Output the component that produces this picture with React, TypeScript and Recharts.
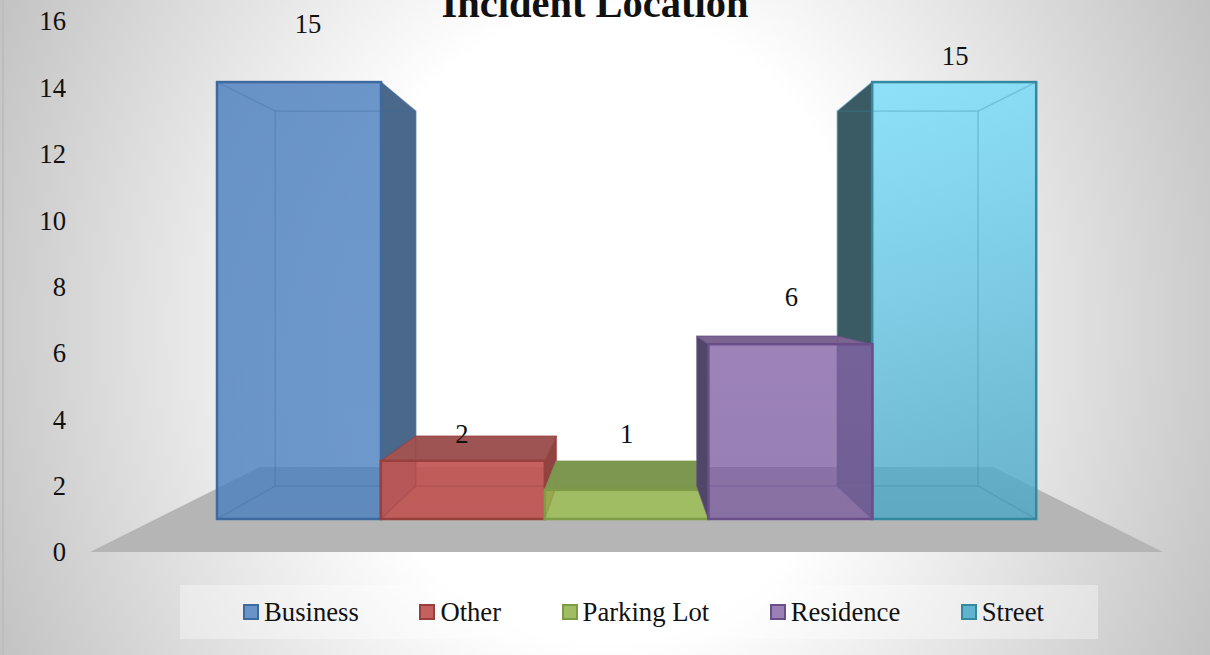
import { BarChart, Bar, XAxis, YAxis, Legend, LabelList } from 'recharts';

const categories = ['Business', 'Other', 'Parking Lot', 'Residence', 'Street'];
const values = [15, 2, 1, 6, 15];
const axisTicks = [0, 2, 4, 6, 8, 10, 12, 14, 16];
// bars are painted in this order so the outer walls sit behind the inner fronts
const drawOrder = ['Business', 'Street', 'Other', 'Parking Lot', 'Residence'];
const labelShift: Record<string, [number, number]> = {
  Business: [9, -49],
  Other: [-1, -18],
  'Parking Lot': [0, -47],
  Residence: [1, -38],
  Street: [1, -17],
};
const palette: Record<string, { top: string; bottom: string; edge: string; wall: string; lid: string; marker: string; alpha: number }> = {
  Business: { top: '#487dbe', bottom: '#4a7fbe', edge: '#3d6a9f', wall: '#4a688a', lid: '#4a688a', marker: '#6a94c8', alpha: 0.8 },
  Other: { top: '#c05553', bottom: '#bf5553', edge: '#98403e', wall: '#8f4442', lid: '#9d5452', marker: '#c4615f', alpha: 0.92 },
  'Parking Lot': { top: '#9bbf4f', bottom: '#9bbf4f', edge: '#7e9b45', wall: '#74894a', lid: '#7d9650', marker: '#a0bd63', alpha: 0.8 },
  Residence: { top: '#8464a6', bottom: '#7e5f9f', edge: '#694e8a', wall: '#4f4668', lid: '#7b6490', marker: '#9a80b5', alpha: 0.8 },
  Street: { top: '#74dcfa', bottom: '#4ba6c6', edge: '#35899f', wall: '#3b5b64', lid: '#3b5b64', marker: '#5fb3cf', alpha: 0.8 },
};

const rows = categories.map((name, i) => ({ name, [name]: values[i] }));

const FONT = '"Liberation Serif", serif';
const VX = 626.5;
const VY = 287;
const DEPTH = 0.858;
const backX = (x: number) => VX + (x - VX) * DEPTH;
const backY = (y: number) => VY + (y - VY) * DEPTH;
const pts = (p: number[][]) => p.map((q) => q.join(',')).join(' ');

const gradId = (name: string) => `front-${name.replace(' ', '')}`;

function boxShape(name: string) {
  const c = palette[name];
  return (props: any) => {
    const { x, y, width, height } = props;
    if (!(height > 0)) return <g />;
    const r = x + width;
    const b = y + height;
    const bl = backX(x);
    const br = backX(r);
    const bt = backY(y);
    const bb = backY(b);
    const lineProps = { stroke: c.edge, strokeOpacity: 0.3, strokeWidth: 1.5, fill: 'none' };
    return (
      <g>
        {r < VX && <polygon points={pts([[r, y], [br, bt], [br, bb], [r, b]])} fill={c.wall} stroke={c.edge} strokeOpacity={0.5} />}
        {x > VX && <polygon points={pts([[x, y], [bl, bt], [bl, bb], [x, b]])} fill={c.wall} stroke={c.edge} strokeOpacity={0.5} />}
        {y > VY && <polygon points={pts([[x, y], [r, y], [br, bt], [bl, bt]])} fill={c.lid} stroke={c.edge} strokeOpacity={0.5} />}
        <rect x={x} y={y} width={width} height={height} fill={`url(#${gradId(name)})`} fillOpacity={c.alpha} />
        <rect x={bl} y={bt} width={br - bl} height={bb - bt} {...lineProps} />
        <line x1={x} y1={y} x2={bl} y2={bt} {...lineProps} />
        <line x1={r} y1={y} x2={br} y2={bt} {...lineProps} />
        <line x1={x} y1={b} x2={bl} y2={bb} {...lineProps} />
        <line x1={r} y1={b} x2={br} y2={bb} {...lineProps} />
        <rect x={x} y={y} width={width} height={height} fill="none" stroke={c.edge} strokeWidth={2.5} />
      </g>
    );
  };
}

function valueLabel(name: string) {
  return (props: any) => {
    const { x, y, width, height } = props;
    if (!(height > 0)) return null;
    const [dx, dy] = labelShift[name];
    return (
      <text x={x + width / 2 + dx} y={y + dy} textAnchor="middle" fontFamily={FONT} fontSize={26.67} fill="#111">
        {values[categories.indexOf(name)]}
      </text>
    );
  };
}

function LegendRow({ payload }: any) {
  return (
    <div style={{ display: 'flex', justifyContent: 'center', alignItems: 'center', gap: 60.5, height: 54, paddingLeft: 9, boxSizing: 'border-box', background: 'rgba(255,255,255,0.35)', fontFamily: FONT, fontSize: 26.67, color: '#111' }}>
      {(payload || []).map((item: any) => (
        <span key={item.value} style={{ display: 'flex', alignItems: 'center', gap: 5, whiteSpace: 'nowrap' }}>
          <span style={{ width: 12, height: 12, background: palette[item.value].marker, border: `2px solid ${palette[item.value].edge}` }} />
          {item.value}
        </span>
      ))}
    </div>
  );
}

export default function App() {
  return (
    <div style={{ position: 'absolute', left: 0, top: 0, width: 1210, height: 655, overflow: 'hidden', background: 'radial-gradient(760px 900px at 50% 50%, #ffffff 35%, #b4b4b4 100%)' }}>
      <div style={{ position: 'absolute', left: 2, top: 0, width: 2, height: 655, background: '#bdbdbd' }} />
      <BarChart width={1210} height={655} data={rows} margin={{ top: 21, right: 70, bottom: 103, left: 0 }} barCategoryGap={0} style={{ position: 'absolute', left: 0, top: 0 }}>
        <defs>
          {categories.map((name) => (
            <linearGradient key={name} id={gradId(name)} x1="0" y1="0" x2="0" y2="1">
              <stop offset="0%" stopColor={palette[name].top} />
              <stop offset="100%" stopColor={palette[name].bottom} />
            </linearGradient>
          ))}
        </defs>
        <polygon points={pts([[90, 552], [1163, 552], [993, 467], [260, 467]])} fill="#b5b5b5" />
        <XAxis dataKey="name" hide padding={{ left: 151, right: 104 }} />
        <YAxis yAxisId="ticks" domain={[0, 16]} ticks={axisTicks} interval={0} width={66} axisLine={false} tickLine={false} tickSize={0} tickMargin={0} allowDataOverflow tick={{ fill: '#111', fontSize: 26.67, fontFamily: FONT }} />
        <YAxis yAxisId="front" hide width={0} domain={[-1.1329, 17.096]} allowDataOverflow />
        {drawOrder.map((name) => (
          <Bar key={name} yAxisId="front" dataKey={name} name={name} stackId="all" fill={palette[name].marker} shape={boxShape(name)} isAnimationActive={false}>
            <LabelList dataKey={name} content={valueLabel(name)} />
          </Bar>
        ))}
        <Legend layout="horizontal" verticalAlign="middle" align="center" content={<LegendRow />} wrapperStyle={{ left: 180, top: 585, width: 918, height: 54 }} />
        <text x={595} y={17} textAnchor="middle" fontFamily={FONT} fontWeight="bold" fontSize={40.5} fill="#111">Incident Location</text>
      </BarChart>
    </div>
  );
}
